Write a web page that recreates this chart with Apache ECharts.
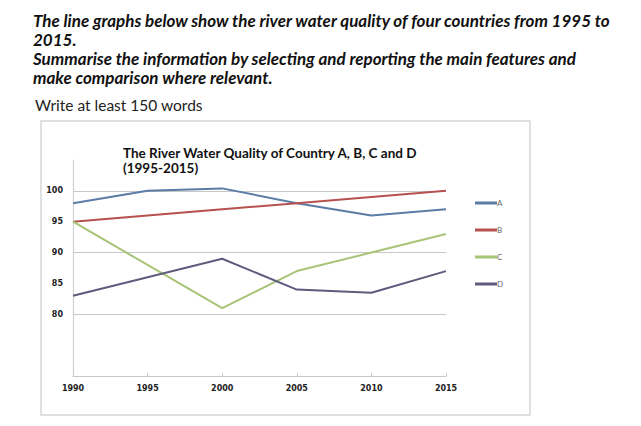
<!DOCTYPE html>
<html>
<head>
<meta charset="utf-8">
<script src="https://cdn.jsdelivr.net/npm/echarts@6/dist/echarts.min.js"></script>
<style>
html,body{margin:0;padding:0;background:#fff;}
#c{width:641px;height:426px;}
</style>
</head>
<body>
<div id="c"></div>
<script>
var years = ['1990', '1995', '2000', '2005', '2010', '2015'];
var seriesNames = ['A', 'B', 'C', 'D'];
var valuesA = [98, 100, 100.4, 98, 96, 97];
var valuesB = [95, 96, 97, 98, 99, 100];
var valuesC = [95, 88, 81, 87, 90, 93];
var valuesD = [83, 86, 89, 84, 83.5, 87];
var yTickLabels = [80, 85, 90, 95, 100];
var gridValues = [80, 90, 100];
var colors = ['#5a7ca6', '#b7514f', '#a8c476', '#5e5b7c'];

var chart = echarts.init(document.getElementById('c'), null, {renderer: 'svg'});
var font = 'Lato, "Open Sans", sans-serif';
var axisFont = '"DejaVu Sans", sans-serif';

var labelMarks = yTickLabels.map(function (v) {
  return {
    yAxis: v,
    lineStyle: {color: gridValues.indexOf(v) >= 0 ? '#c8c8c8' : 'rgba(0,0,0,0)', width: 1.2, type: 'solid'},
    label: {show: true, position: 'start', formatter: String(v), color: '#222', fontSize: 8, fontWeight: 'bold', fontFamily: axisFont, distance: 10}
  };
});

function mkSeries(name, data, i) {
  var s = {
    name: name,
    type: 'line',
    data: data,
    symbol: 'none',
    smooth: false,
    lineStyle: {width: 2, color: colors[i]},
    itemStyle: {color: colors[i]},
    z: 3
  };
  if (i === 0) {
    s.markLine = {
      silent: true,
      symbol: ['none', 'none'],
      animation: false,
      z: 1,
      data: labelMarks
    };
  }
  return s;
}

var headStyle = {fontFamily: font, fontSize: 17, lineHeight: 19, fontWeight: 'bold', fontStyle: 'italic', color: '#111'};
var chartTitleStyle = {fontFamily: font, fontSize: 13.5, lineHeight: 15, fontWeight: 'bold', color: '#111'};

chart.setOption({
  animation: false,
  backgroundColor: '#fff',
  title: [
    {text: 'The line graphs below show the river water quality of four countries from 1995 to', left: 33, top: 10.5, padding: 0, textStyle: headStyle},
    {text: '2015.', left: 33, top: 29.5, padding: 0, textStyle: headStyle},
    {text: 'Summarise the information by selecting and reporting the main features and', left: 33, top: 48.5, padding: 0, textStyle: headStyle},
    {text: 'make comparison where relevant.', left: 33, top: 67.5, padding: 0, textStyle: headStyle},
    {text: 'Write at least 150 words', left: 35, top: 96, padding: 0,
      textStyle: {fontFamily: font, fontSize: 15.5, lineHeight: 18, fontWeight: 'normal', color: '#222'}},
    {text: 'The River Water Quality of Country A, B, C and D', left: 123, top: 145.5, padding: 0, textStyle: chartTitleStyle},
    {text: '(1995-2015)', left: 123, top: 160.5, padding: 0, textStyle: chartTitleStyle}
  ],
  graphic: [
    {type: 'rect', shape: {x: 41, y: 121, width: 489, height: 294}, style: {fill: 'none', stroke: '#d6d6d6', lineWidth: 1.5}, z: 0}
  ],
  legend: {
    data: seriesNames,
    orient: 'vertical',
    left: 475,
    top: 198,
    padding: 0,
    itemWidth: 22,
    itemHeight: 3,
    itemGap: 17,
    icon: 'rect',
    textStyle: {fontFamily: font, fontSize: 8, color: '#666', padding: [0, 0, 0, -5], lineHeight: 10}
  },
  grid: {left: 73, right: 195, top: 160, bottom: 50, containLabel: false},
  xAxis: {
    type: 'category',
    data: years,
    boundaryGap: false,
    axisLine: {lineStyle: {color: '#c8c8c8', width: 1.2}},
    axisTick: {show: true, length: 3, inside: true, lineStyle: {color: '#c8c8c8'}},
    axisLabel: {color: '#222', fontSize: 8, fontWeight: 'bold', fontFamily: axisFont, margin: 8},
    splitLine: {show: false}
  },
  yAxis: {
    type: 'value',
    min: 70,
    max: 105,
    interval: 5,
    axisLine: {show: true, lineStyle: {color: '#d0d0d0', width: 1.2}},
    axisTick: {show: false},
    axisLabel: {show: false},
    splitLine: {show: false}
  },
  series: [
    mkSeries('A', valuesA, 0),
    mkSeries('B', valuesB, 1),
    mkSeries('C', valuesC, 2),
    mkSeries('D', valuesD, 3)
  ]
});
</script>
</body>
</html>
